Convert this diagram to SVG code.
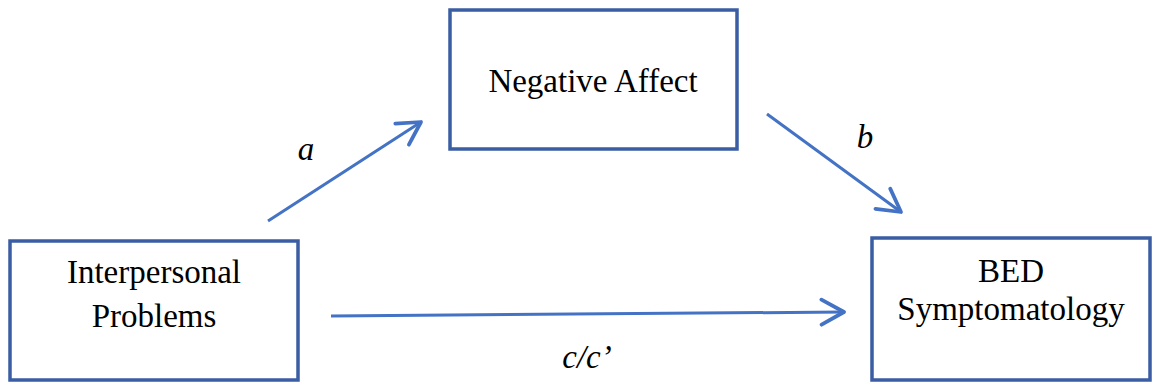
<svg xmlns="http://www.w3.org/2000/svg" width="1155" height="386" viewBox="0 0 1155 386">
<style>
.box{fill:#fff;stroke:#3A5DA3;stroke-width:3.5}
.lbl{font-family:"Liberation Serif","Times New Roman",serif;font-size:33px;fill:#000;text-anchor:middle}
.it{font-style:italic}
.conn{stroke:#4472C4;stroke-width:3;fill:none}
</style>
<defs>
<marker id="arr" markerUnits="userSpaceOnUse" markerWidth="30" markerHeight="30" viewBox="-20 -12 22 24" refX="0" refY="0" orient="auto">
<path d="M-18,-10 L0,0 L-18,10" fill="none" stroke="#4472C4" stroke-width="3" stroke-linecap="round" stroke-linejoin="round"/>
</marker>
</defs>
<rect width="1155" height="386" fill="#fff"/>
<g id="connectors">
<line class="conn" x1="268" y1="221" x2="421" y2="122" marker-end="url(#arr)"/>
<line class="conn" x1="767" y1="114" x2="901" y2="212" marker-end="url(#arr)"/>
<line class="conn" x1="331" y1="316" x2="844" y2="312" marker-end="url(#arr)"/>
<text class="lbl it" x="306" y="160">a</text>
<text class="lbl it" x="865" y="148">b</text>
<text class="lbl it" x="587" y="368">c/c’</text>
</g>
<g id="node-interpersonal">
<rect class="box" x="10" y="241" width="288" height="139"/>
<text class="lbl" x="154" y="283">Interpersonal</text>
<text class="lbl" x="154" y="327">Problems</text>
</g>
<g id="node-negative-affect">
<rect class="box" x="450" y="10" width="287" height="139"/>
<text class="lbl" x="593" y="92">Negative Affect</text>
</g>
<g id="node-bed">
<rect class="box" x="872" y="238" width="278" height="142"/>
<text class="lbl" x="1011" y="282">BED</text>
<text class="lbl" x="1011" y="320">Symptomatology</text>
</g>
</svg>
